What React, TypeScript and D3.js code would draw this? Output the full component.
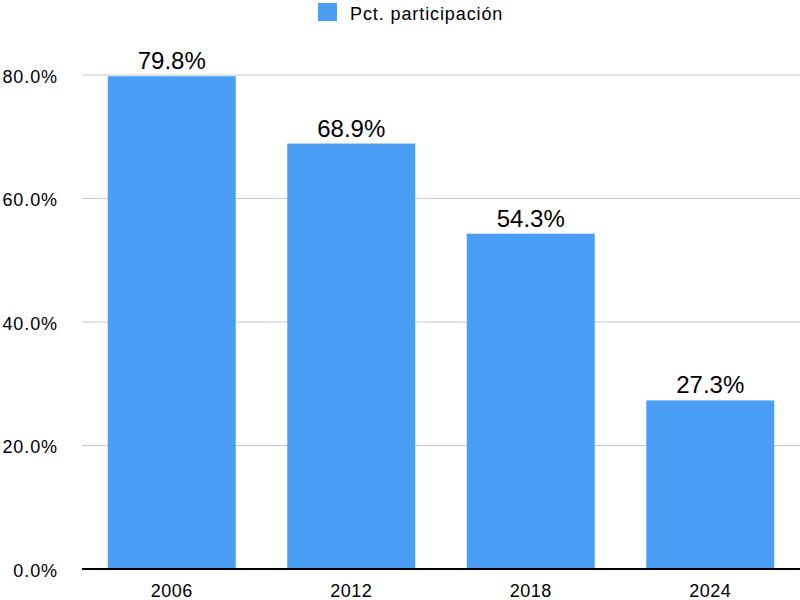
import React from "react";
import * as d3 from "d3";

const categories = ["2006", "2012", "2018", "2024"];
const values = [79.8, 68.9, 54.3, 27.3];
const yTicks = [0, 20, 40, 60, 80];
const seriesName = "Pct. participación";

export default function App() {
  const W = 800, H = 600;
  const left = 82, right = 800, top = 75, bottom = 569;
  const x = d3.scaleBand<string>().domain(categories).range([left, right]).paddingInner(0.287).paddingOuter(0.1435);
  const y = d3.scaleLinear().domain([0, 80]).range([bottom, top]);
  const font = "Helvetica, Arial, 'Liberation Sans', sans-serif";
  const color = "#4a9ff5";
  return (
    <svg width={W} height={H} style={{ position: "absolute", left: 0, top: 0, background: "#fff" }} fontFamily={font}>
      {yTicks.map((t) => (
        <g key={t}>
          {t > 0 && <line x1={left} x2={right} y1={y(t)} y2={y(t)} stroke="#c8c8c8" strokeWidth={1} />}
          <text x={58} y={y(t) + 7.5} textAnchor="end" fontSize={18} letterSpacing={0.9} fill="#000">{t.toFixed(1) + "%"}</text>
        </g>
      ))}
      {categories.map((c, i) => (
        <g key={c}>
          <rect x={x(c)} y={y(values[i])} width={x.bandwidth()} height={bottom - y(values[i])} fill={color} />
          <text x={(x(c) as number) + x.bandwidth() / 2} y={y(values[i]) - 7} textAnchor="middle" fontSize={24} fill="#000">{values[i].toFixed(1) + "%"}</text>
          <text x={(x(c) as number) + x.bandwidth() / 2} y={597} textAnchor="middle" fontSize={18} letterSpacing={0.5} fill="#000">{c}</text>
        </g>
      ))}
      <line x1={left} x2={right} y1={bottom} y2={bottom} stroke="#000" strokeWidth={2} />
      <rect x={318} y={3} width={19} height={18} fill={color} />
      <text x={350} y={19.5} fontSize={18} letterSpacing={0.9} fill="#000">{seriesName}</text>
    </svg>
  );
}
